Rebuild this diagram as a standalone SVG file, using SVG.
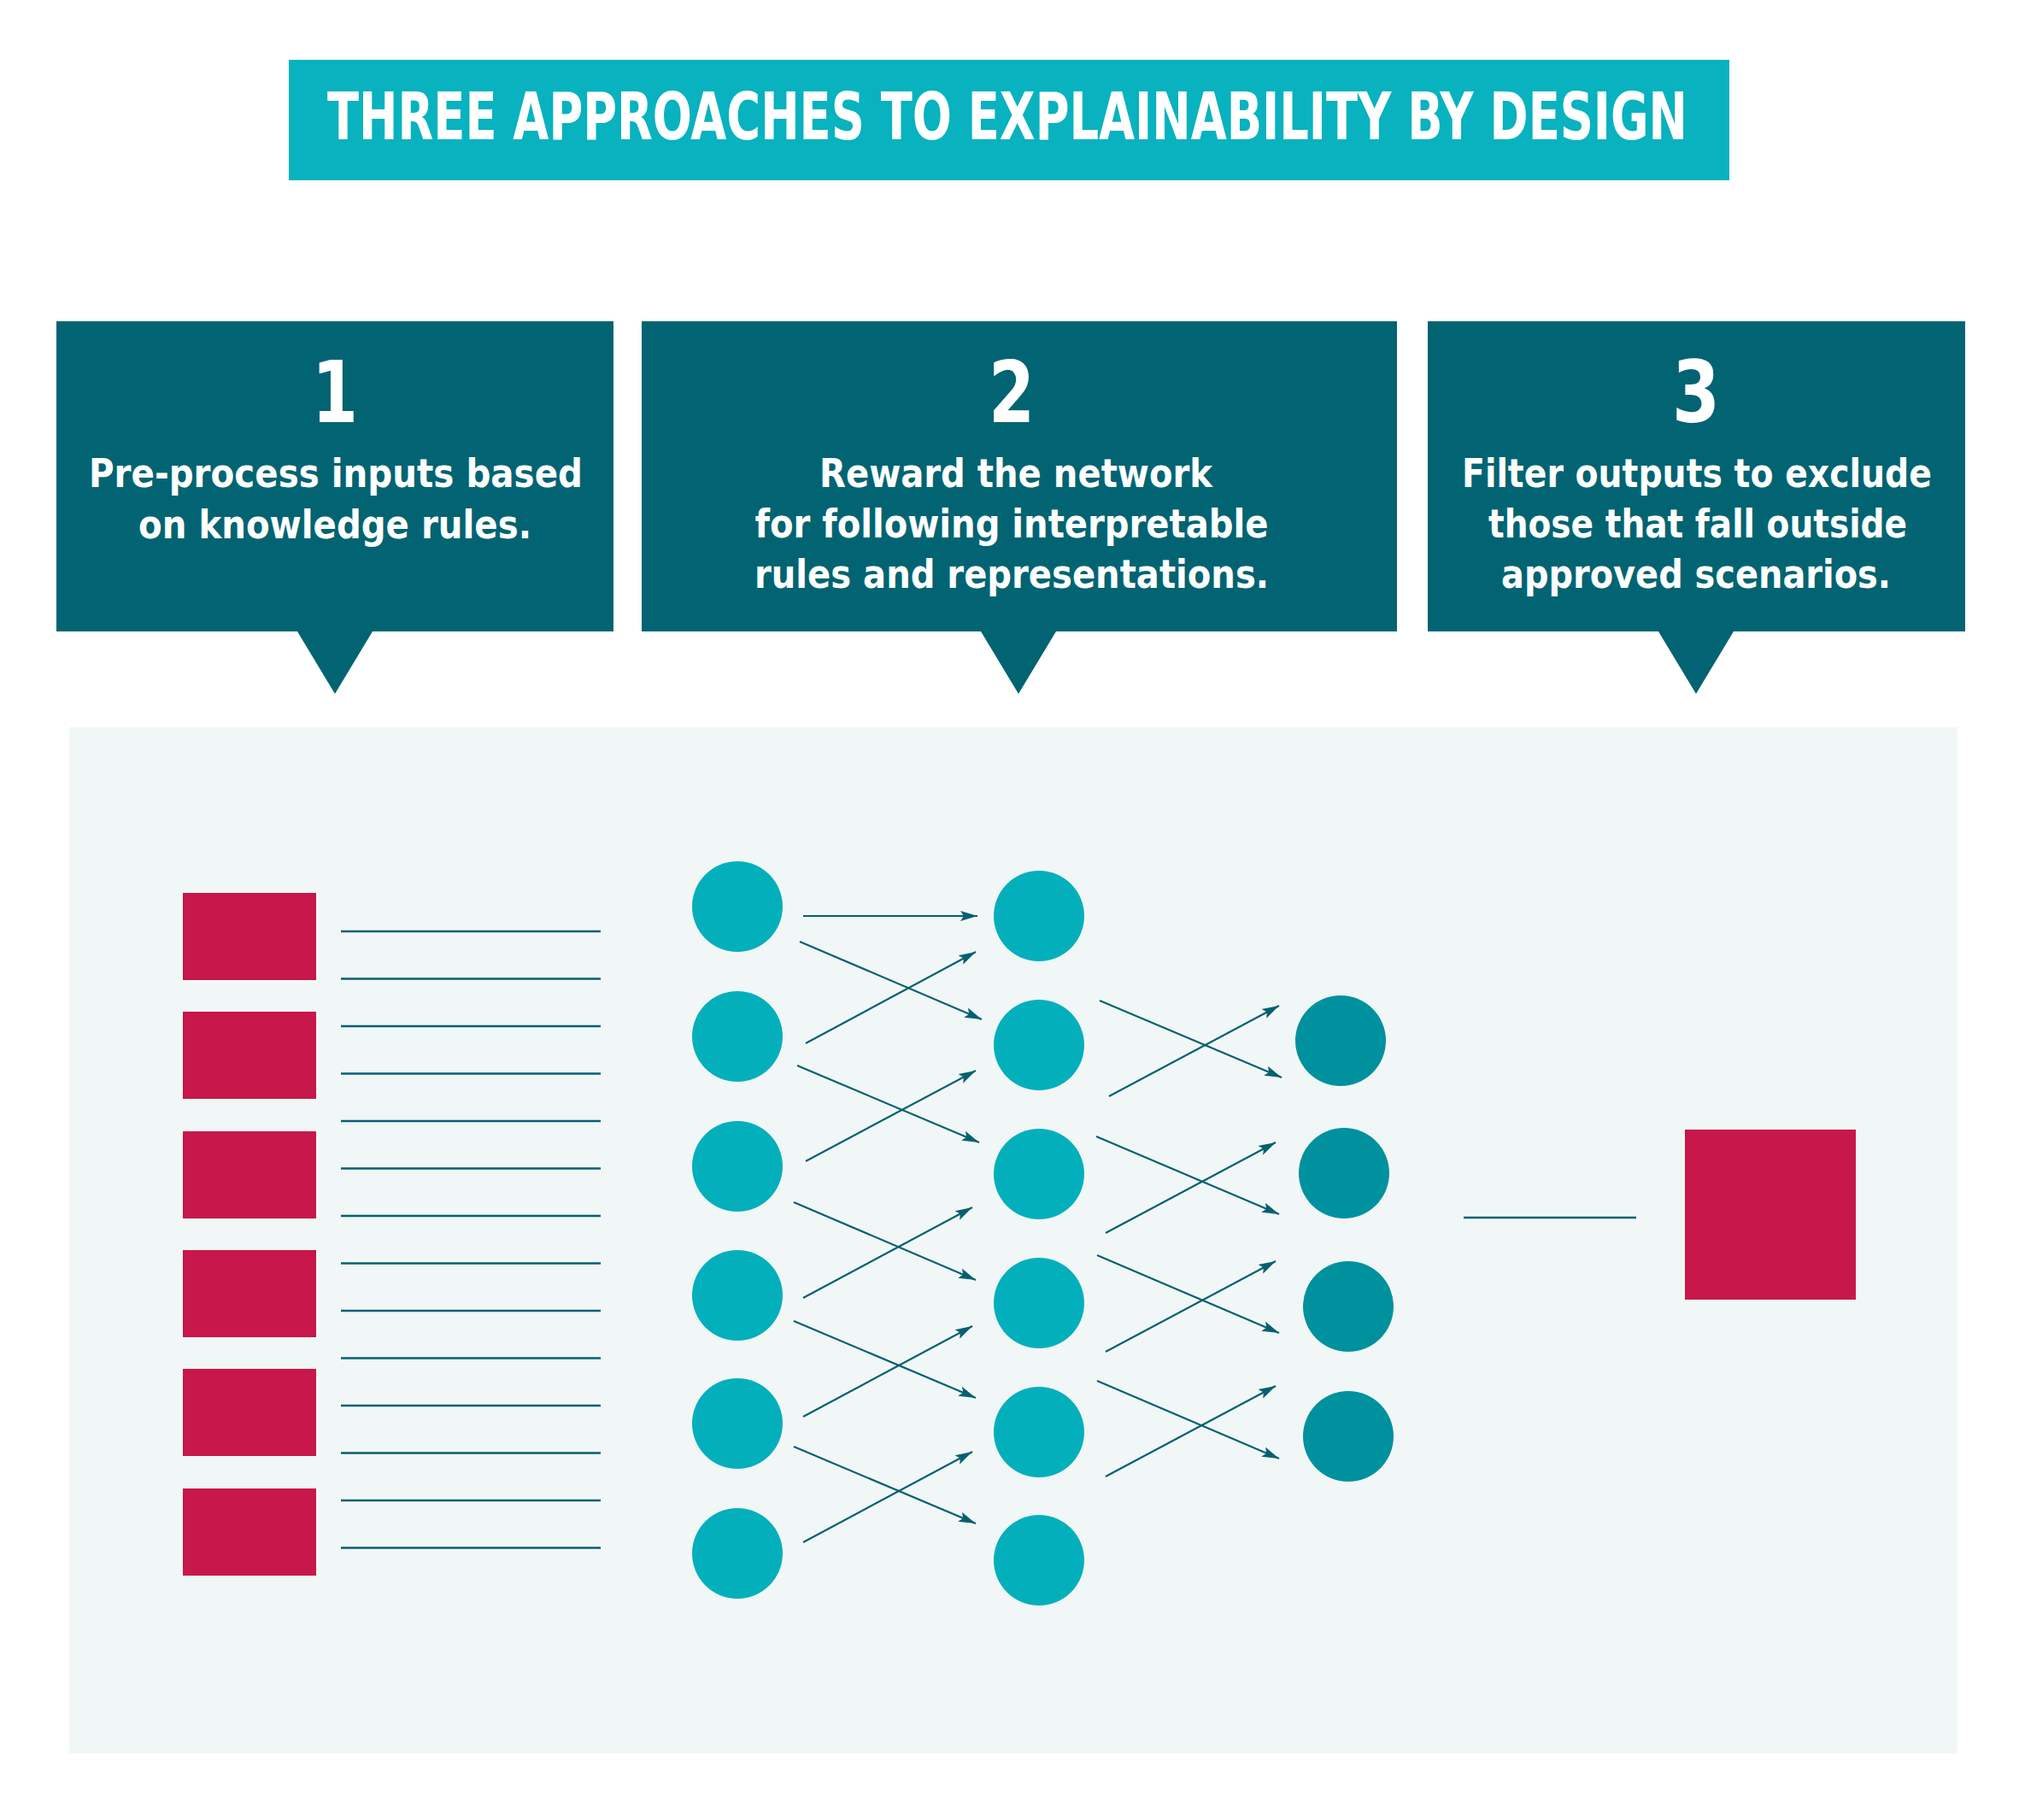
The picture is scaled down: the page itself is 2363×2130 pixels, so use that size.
<svg xmlns="http://www.w3.org/2000/svg" width="2363" height="2130" viewBox="0 0 2363 2130">
<style>
.title{font-family:"DejaVu Sans Condensed","DejaVu Sans","Liberation Sans",sans-serif;font-weight:bold;font-size:60px;fill:#ffffff}
.num{font-family:"DejaVu Sans Condensed","DejaVu Sans","Liberation Sans",sans-serif;font-weight:bold;font-size:99px;fill:#ffffff;text-anchor:middle}
.txt{font-family:"DejaVu Sans Condensed","DejaVu Sans","Liberation Sans",sans-serif;font-weight:bold;font-size:47px;fill:#ffffff;text-anchor:middle}
.callout{fill:#026472}
.red{fill:#c8174a}
.n1{fill:#04afbc}
.n3{fill:#00919e}
.ln{stroke:#05606f;stroke-width:2.4;fill:none}
.ar{stroke:#05606f;stroke-width:2.2;fill:none;marker-end:url(#ah)}
</style>
<defs>
<marker id="ah" markerUnits="userSpaceOnUse" markerWidth="22" markerHeight="14" refX="20" refY="7" orient="auto">
<path d="M0,1 L20,7 L0,13 L4,7 Z" fill="#05606f"/>
</marker>
</defs>
<rect width="2363" height="2130" fill="#ffffff"/>
<g id="title">
<rect x="338" y="70" width="1686" height="141" fill="#08b2bf"/>
<text class="title" transform="translate(1179,163) scale(1,1.28)" x="0" y="0" text-anchor="middle" textLength="1592" lengthAdjust="spacingAndGlyphs">THREE APPROACHES TO EXPLAINABILITY BY DESIGN</text>
</g>
<g id="callout1">
<path class="callout" d="M66,376 H718 V739 H436 L392,812 L348,739 H66 Z"/>
<text class="num" x="392" y="494" textLength="54" lengthAdjust="spacingAndGlyphs">1</text>
<text class="txt" x="393" y="570" textLength="578" lengthAdjust="spacingAndGlyphs">Pre-process inputs based</text>
<text class="txt" x="392" y="630" textLength="460" lengthAdjust="spacingAndGlyphs">on knowledge rules.</text>
</g>
<g id="callout2">
<path class="callout" d="M751,376 H1635 V739 H1236 L1192,812 L1148,739 H751 Z"/>
<text class="num" x="1184" y="494" textLength="54" lengthAdjust="spacingAndGlyphs">2</text>
<text class="txt" x="1189" y="570" textLength="460" lengthAdjust="spacingAndGlyphs">Reward the network</text>
<text class="txt" x="1184" y="629" textLength="601" lengthAdjust="spacingAndGlyphs">for following interpretable</text>
<text class="txt" x="1184" y="688" textLength="602" lengthAdjust="spacingAndGlyphs">rules and representations.</text>
</g>
<g id="callout3">
<path class="callout" d="M1671,376 H2300 V739 H2029 L1985,812 L1941,739 H1671 Z"/>
<text class="num" x="1985" y="494" textLength="56" lengthAdjust="spacingAndGlyphs">3</text>
<text class="txt" x="1986" y="570" textLength="550" lengthAdjust="spacingAndGlyphs">Filter outputs to exclude</text>
<text class="txt" x="1987" y="629" textLength="490" lengthAdjust="spacingAndGlyphs">those that fall outside</text>
<text class="txt" x="1985" y="688" textLength="456" lengthAdjust="spacingAndGlyphs">approved scenarios.</text>
</g>
<g id="panel">
<rect x="81" y="851" width="2210" height="1201" fill="#f1f7f7"/>
</g>
<g id="inputs">
<rect class="red" x="214" y="1045" width="156" height="102"/>
<rect class="red" x="214" y="1184" width="156" height="102"/>
<rect class="red" x="214" y="1324" width="156" height="102"/>
<rect class="red" x="214" y="1463" width="156" height="102"/>
<rect class="red" x="214" y="1602" width="156" height="102"/>
<rect class="red" x="214" y="1742" width="156" height="102"/>
</g>
<g id="layer1">
<circle class="n1" cx="863" cy="1061" r="53"/>
<circle class="n1" cx="863" cy="1213" r="53"/>
<circle class="n1" cx="863" cy="1365" r="53"/>
<circle class="n1" cx="863" cy="1516" r="53"/>
<circle class="n1" cx="863" cy="1666" r="53"/>
<circle class="n1" cx="863" cy="1818" r="53"/>
</g>
<g id="layer2">
<circle class="n1" cx="1216" cy="1072" r="53"/>
<circle class="n1" cx="1216" cy="1223" r="53"/>
<circle class="n1" cx="1216" cy="1374" r="53"/>
<circle class="n1" cx="1216" cy="1525" r="53"/>
<circle class="n1" cx="1216" cy="1676" r="53"/>
<circle class="n1" cx="1216" cy="1826" r="53"/>
</g>
<g id="layer3">
<circle class="n3" cx="1569" cy="1218" r="53"/>
<circle class="n3" cx="1573" cy="1373" r="53"/>
<circle class="n3" cx="1578" cy="1529" r="53"/>
<circle class="n3" cx="1578" cy="1681" r="53"/>
</g>
<g id="output">
<rect class="red" x="1972" y="1322" width="200" height="199"/>
</g>
<g id="connectors">
<line class="ln" x1="399" y1="1090" x2="703" y2="1090"/>
<line class="ln" x1="399" y1="1145.5" x2="703" y2="1145.5"/>
<line class="ln" x1="399" y1="1201" x2="703" y2="1201"/>
<line class="ln" x1="399" y1="1256.5" x2="703" y2="1256.5"/>
<line class="ln" x1="399" y1="1312" x2="703" y2="1312"/>
<line class="ln" x1="399" y1="1367.5" x2="703" y2="1367.5"/>
<line class="ln" x1="399" y1="1423" x2="703" y2="1423"/>
<line class="ln" x1="399" y1="1478.5" x2="703" y2="1478.5"/>
<line class="ln" x1="399" y1="1534" x2="703" y2="1534"/>
<line class="ln" x1="399" y1="1589.5" x2="703" y2="1589.5"/>
<line class="ln" x1="399" y1="1645" x2="703" y2="1645"/>
<line class="ln" x1="399" y1="1700.5" x2="703" y2="1700.5"/>
<line class="ln" x1="399" y1="1756" x2="703" y2="1756"/>
<line class="ln" x1="399" y1="1811.5" x2="703" y2="1811.5"/>
<line class="ar" x1="940" y1="1072" x2="1144" y2="1072"/>
<line class="ar" x1="936" y1="1102" x2="1149" y2="1193"/>
<line class="ar" x1="943" y1="1221" x2="1142" y2="1114"/>
<line class="ar" x1="933" y1="1247" x2="1146" y2="1337"/>
<line class="ar" x1="943" y1="1359" x2="1142" y2="1253"/>
<line class="ar" x1="929" y1="1407" x2="1142" y2="1498"/>
<line class="ar" x1="940" y1="1519" x2="1138" y2="1413"/>
<line class="ar" x1="929" y1="1546" x2="1142" y2="1636"/>
<line class="ar" x1="940" y1="1658" x2="1138" y2="1552"/>
<line class="ar" x1="929" y1="1693" x2="1142" y2="1783"/>
<line class="ar" x1="940" y1="1805" x2="1138" y2="1699"/>
<line class="ar" x1="1287" y1="1171" x2="1500" y2="1261"/>
<line class="ar" x1="1298" y1="1283" x2="1497" y2="1177"/>
<line class="ar" x1="1283" y1="1330" x2="1497" y2="1421"/>
<line class="ar" x1="1294" y1="1443" x2="1493" y2="1337"/>
<line class="ar" x1="1284" y1="1469" x2="1497" y2="1560"/>
<line class="ar" x1="1294" y1="1582" x2="1493" y2="1476"/>
<line class="ar" x1="1284" y1="1616" x2="1497" y2="1707"/>
<line class="ar" x1="1294" y1="1728" x2="1493" y2="1622"/>
<line class="ln" x1="1713" y1="1425" x2="1915" y2="1425"/>
</g>
</svg>
